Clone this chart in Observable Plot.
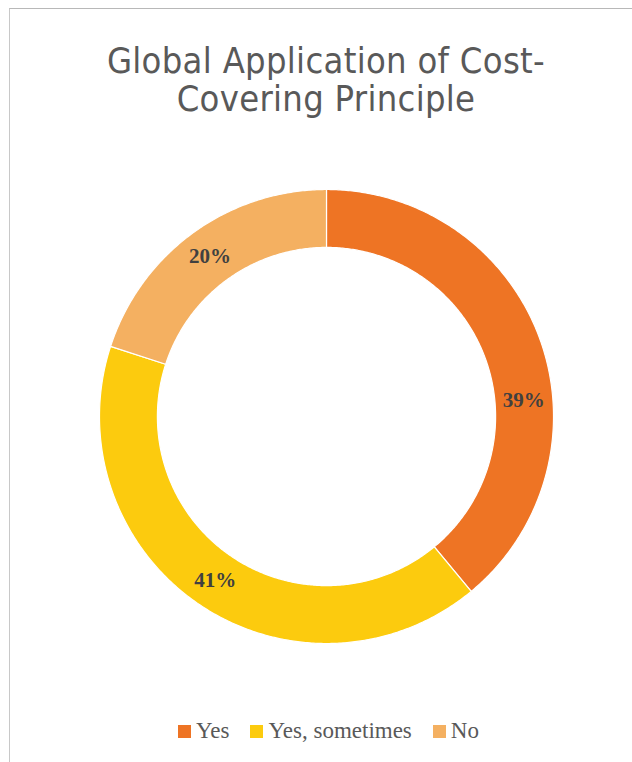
<!DOCTYPE html>
<html><head><meta charset="utf-8">
<script src="https://cdn.jsdelivr.net/npm/d3@7"></script>
<script src="https://cdn.jsdelivr.net/npm/@observablehq/plot@0.6"></script>
<style>
html,body{margin:0;padding:0;background:#fff;}
body{width:632px;height:762px;overflow:hidden;position:relative;}
#frame{position:absolute;left:9px;top:8px;width:700px;height:800px;border-top:1px solid #b8b8b8;border-left:1px solid #c8c8c8;box-sizing:border-box;}
.tl{position:absolute;left:0;width:652px;text-align:center;font-family:"Liberation Sans Narrow","DejaVu Sans Condensed",sans-serif;font-size:36px;line-height:36px;height:36px;color:#595959;white-space:nowrap;letter-spacing:0.3px;}
#chart{position:absolute;left:0;top:176px;}
#legend{position:absolute;left:178px;top:718px;display:flex;align-items:center;font-family:"Liberation Serif",serif;font-size:23px;color:#595959;white-space:nowrap;}
#legend .item{display:flex;align-items:center;margin-right:21px;}
#legend .sw{width:13px;height:13px;margin-right:5px;}
</style>
</head><body>
<div id="frame"></div>
<div class="tl" style="top:43px">Global Application of Cost-</div>
<div class="tl" style="top:81px">Covering Principle</div>
<div id="chart"></div>
<div id="legend"></div>
<script>
// ---- data ----
const categories = ["Yes", "Yes, sometimes", "No"];
const values = [39, 41, 20];
const colors = ["#EE7424", "#FCCB0E", "#F4B061"];

// ---- layout ----
const W = 632, H = 480;
const R = 227;              // outer radius in px
const hole = 0.745;         // inner / outer
const cx = 326, cy = 240;   // donut center within svg
const labelRadius = (1 + hole) / 2;
const labelAngleNudge = [15, 0, 0]; // degrees

const total = d3.sum(values);
const pie = d3.pie().sort(null).value(d => d)(values);

// slice outlines in unit coordinates (angle 0 at top, clockwise)
const rows = [];
pie.forEach((p, i) => {
  const a0 = p.startAngle, a1 = p.endAngle;
  const n = Math.max(8, Math.ceil((a1 - a0) / (Math.PI / 360)));
  const pts = [];
  for (let k = 0; k <= n; k++) { const a = a0 + (a1 - a0) * k / n; pts.push([Math.sin(a), Math.cos(a)]); }
  for (let k = n; k >= 0; k--) { const a = a0 + (a1 - a0) * k / n; pts.push([hole * Math.sin(a), hole * Math.cos(a)]); }
  pts.push(pts[0]);
  pts.forEach(([x, y]) => rows.push({cat: categories[i], x, y}));
});

const labels = pie.map((p, i) => {
  const a = (p.startAngle + p.endAngle) / 2 + labelAngleNudge[i] * Math.PI / 180;
  return {cat: categories[i], text: d3.format(".0%")(values[i] / total), x: labelRadius * Math.sin(a), y: labelRadius * Math.cos(a)};
});

const plot = Plot.plot({
  width: W, height: H,
  margin: 0,
  x: {domain: [-cx / R, (W - cx) / R], axis: null},
  y: {domain: [-(H - cy) / R, cy / R], axis: null},
  color: {domain: categories, range: colors},
  marks: [
    Plot.line(rows, {x: "x", y: "y", z: "cat", fill: "cat", stroke: "white", strokeWidth: 1.2, curve: "linear"}),
    Plot.text(labels, {x: "x", y: "y", text: "text", fontFamily: "Liberation Serif, serif", fontWeight: "bold", fontSize: 21, fill: "#404040"})
  ]
});
document.getElementById("chart").appendChild(plot);

const legend = document.getElementById("legend");
categories.forEach((c, i) => {
  const it = document.createElement("div"); it.className = "item";
  const sw = document.createElement("div"); sw.className = "sw"; sw.style.background = colors[i];
  const t = document.createElement("span"); t.textContent = c;
  it.appendChild(sw); it.appendChild(t); legend.appendChild(it);
});
</script>
</body></html>
